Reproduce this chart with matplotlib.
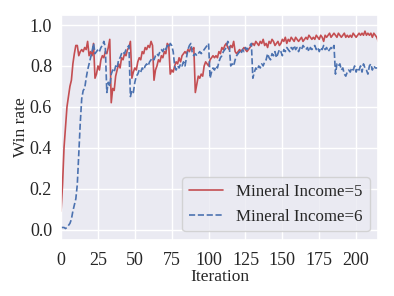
import numpy as np
import matplotlib
matplotlib.use("Agg")
import matplotlib.pyplot as plt
import seaborn as sns

sns.set(style="darkgrid", color_codes=True)
plt.rcParams['font.family'] = ['Liberation Serif', 'DejaVu Serif']

# win rate per iteration
income5 = [
    0.09, 0.22, 0.40, 0.50, 0.60, 0.65, 0.70, 0.73, 0.81, 0.86,
    0.90, 0.90, 0.85, 0.87, 0.88, 0.87, 0.89, 0.88, 0.92, 0.85,
    0.87, 0.85, 0.91, 0.74, 0.76, 0.80, 0.78, 0.83, 0.85, 0.84,
    0.87, 0.86, 0.89, 0.93, 0.62, 0.69, 0.68, 0.75, 0.78, 0.81,
    0.79, 0.84, 0.83, 0.86, 0.85, 0.88, 0.89, 0.92, 0.74, 0.77,
    0.79, 0.78, 0.82, 0.84, 0.83, 0.87, 0.86, 0.89, 0.88, 0.90,
    0.89, 0.92, 0.90, 0.73, 0.78, 0.80, 0.83, 0.82, 0.85, 0.84,
    0.87, 0.86, 0.91, 0.90, 0.76, 0.78, 0.77, 0.80, 0.82, 0.81,
    0.84, 0.82, 0.85, 0.86, 0.87, 0.86, 0.88, 0.87, 0.89, 0.88,
    0.89, 0.67, 0.71, 0.75, 0.74, 0.76, 0.75, 0.80, 0.82, 0.81,
    0.80, 0.83, 0.84, 0.85, 0.84, 0.85, 0.84, 0.87, 0.86, 0.89,
    0.88, 0.90, 0.91, 0.89, 0.88, 0.90, 0.89, 0.92, 0.87, 0.86,
    0.87, 0.88, 0.87, 0.88, 0.89, 0.88, 0.87, 0.88, 0.89, 0.90,
    0.91, 0.90, 0.92, 0.91, 0.90, 0.92, 0.91, 0.93, 0.90, 0.91,
    0.89, 0.92, 0.91, 0.93, 0.92, 0.90, 0.91, 0.92, 0.90, 0.91,
    0.93, 0.92, 0.94, 0.91, 0.93, 0.92, 0.94, 0.93, 0.92, 0.94,
    0.93, 0.92, 0.93, 0.94, 0.92, 0.93, 0.94, 0.93, 0.95, 0.94,
    0.93, 0.94, 0.93, 0.95, 0.94, 0.93, 0.95, 0.94, 0.92, 0.95,
    0.94, 0.95, 0.96, 0.94, 0.95, 0.96, 0.95, 0.94, 0.96, 0.95,
    0.94, 0.95, 0.96, 0.94, 0.95, 0.94, 0.95, 0.94, 0.96, 0.95,
    0.94, 0.95, 0.96, 0.95, 0.96, 0.95, 0.97, 0.95, 0.96, 0.95,
    0.96, 0.94, 0.96, 0.95, 0.94, 0.92,
]
income6 = [
    0.01, 0.01, 0.01, 0.005, 0.01, 0.02, 0.03, 0.05, 0.09, 0.12,
    0.15, 0.22, 0.37, 0.52, 0.64, 0.68, 0.69, 0.74, 0.78, 0.81,
    0.84, 0.87, 0.91, 0.86, 0.87, 0.88, 0.87, 0.89, 0.90, 0.92,
    0.89, 0.67, 0.72, 0.70, 0.76, 0.78, 0.77, 0.80, 0.79, 0.83,
    0.84, 0.86, 0.87, 0.86, 0.88, 0.89, 0.90, 0.65, 0.68, 0.67,
    0.72, 0.75, 0.76, 0.78, 0.77, 0.79, 0.78, 0.80, 0.81, 0.80,
    0.82, 0.83, 0.84, 0.83, 0.85, 0.86, 0.85, 0.87, 0.88, 0.87,
    0.89, 0.88, 0.90, 0.89, 0.91, 0.90, 0.87, 0.80, 0.78, 0.80,
    0.79, 0.81, 0.80, 0.82, 0.80, 0.84, 0.88, 0.90, 0.91, 0.86,
    0.85, 0.86, 0.85, 0.86, 0.87, 0.86, 0.87, 0.88, 0.89, 0.90,
    0.91, 0.74, 0.77, 0.79, 0.78, 0.80, 0.79, 0.82, 0.84, 0.85,
    0.87, 0.88, 0.89, 0.92, 0.90, 0.80, 0.81, 0.80, 0.83, 0.85,
    0.86, 0.87, 0.86, 0.88, 0.87, 0.89, 0.88, 0.89, 0.90, 0.91,
    0.74, 0.77, 0.79, 0.78, 0.80, 0.79, 0.81, 0.80, 0.82, 0.83,
    0.86, 0.84, 0.83, 0.86, 0.85, 0.87, 0.84, 0.86, 0.88, 0.87,
    0.85, 0.88, 0.87, 0.89, 0.88, 0.87, 0.89, 0.88, 0.90, 0.88,
    0.89, 0.87, 0.89, 0.88, 0.90, 0.89, 0.88, 0.89, 0.87, 0.89,
    0.88, 0.89, 0.90, 0.88, 0.89, 0.87, 0.89, 0.88, 0.90, 0.88,
    0.89, 0.87, 0.88, 0.89, 0.88, 0.90, 0.76, 0.81, 0.80, 0.81,
    0.78, 0.79, 0.76, 0.75, 0.77, 0.78, 0.77, 0.79, 0.78, 0.80,
    0.77, 0.79, 0.78, 0.80, 0.77, 0.81, 0.79, 0.78, 0.76, 0.80,
    0.81, 0.78, 0.80, 0.79, 0.79, 0.79,
]
iterations = np.arange(len(income5))

fig = plt.figure(figsize=(3.94, 2.96), dpi=100)
ax = fig.add_axes([0.155, 0.19, 0.805, 0.76])
ax.plot(iterations, income5, 'r-', linewidth=1.2, label='Mineral Income=5')
ax.plot(iterations, income6, 'b--', linewidth=1.2, label='Mineral Income=6')
ax.set_xlim(0, len(income5) - 1)
ax.set_ylim(-0.05, 1.05)
ax.set_xticks([0, 25, 50, 75, 100, 125, 150, 175, 200])
ax.set_yticks([0.0, 0.2, 0.4, 0.6, 0.8, 1.0])
ax.tick_params(axis='x', labelsize=13, pad=3)
ax.tick_params(axis='y', labelsize=13, pad=0.5)
ax.set_xlabel('Iteration', fontsize=12.5, labelpad=0)
ax.set_ylabel('Win rate', fontsize=12.5, labelpad=0.5)
ax.legend(loc='lower right', fontsize=12.2)
fig.savefig('out.png', dpi=100)
